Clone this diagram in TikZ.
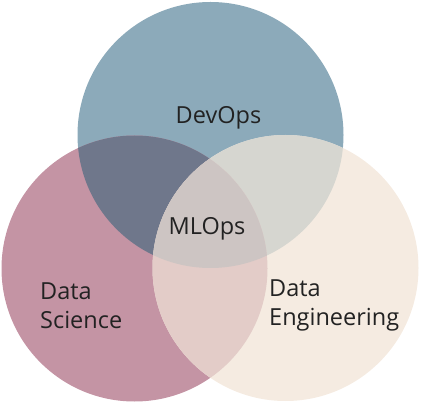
\documentclass[tikz,border=0pt]{standalone}
\usepackage{fontspec}
\setmainfont{Open Sans}
\usepackage{xcolor}
\usetikzlibrary{positioning}

\definecolor{devblue}{HTML}{8CAABA}
\definecolor{sciencemauve}{HTML}{C494A4}
\definecolor{engcream}{HTML}{F5EBE1}
\definecolor{devscience}{HTML}{6F778B}
\definecolor{deveng}{HTML}{D6D6D0}
\definecolor{scienceeng}{HTML}{E3CCC8}
\definecolor{mlopsgrey}{HTML}{CDC5C3}
\definecolor{labeltext}{HTML}{222222}

\begin{document}
\begin{tikzpicture}[
    x=1pt, y=-1pt,
    label/.style={text=labeltext, inner sep=0pt, font=\fontsize{23.5}{28.5}\selectfont},
    setfill/.style={radius=133pt}
]
\useasboundingbox (0,0) rectangle (447,403);

% Circle centres
\coordinate (devops) at (210.5,135);
\coordinate (science) at (134.5,268.5);
\coordinate (engineering) at (285.5,268);

% Single sets
\fill[devblue, setfill] (devops) circle;
\fill[sciencemauve, setfill] (science) circle;
\fill[engcream, setfill] (engineering) circle;

% Pairwise overlaps
\begin{scope}
  \clip[setfill] (devops) circle;
  \fill[devscience, setfill] (science) circle;
  \fill[deveng, setfill] (engineering) circle;
\end{scope}
\begin{scope}
  \clip[setfill] (science) circle;
  \fill[scienceeng, setfill] (engineering) circle;
\end{scope}

% Centre overlap
\begin{scope}
  \clip[setfill] (devops) circle;
  \clip[setfill] (science) circle;
  \fill[mlopsgrey, setfill] (engineering) circle;
\end{scope}

% Labels
\node[label, anchor=base] (devopslabel) at (218.5,124) {DevOps};
\node[label, anchor=base] (mlopslabel) at (207,235) {MLOps};
\node[label, anchor=base west, align=left] (sciencelabel) at (40,328) {Data\\Science};
\node[label, anchor=base west, align=left] (englabel) at (269,325) {Data\\Engineering};

\end{tikzpicture}
\end{document}
